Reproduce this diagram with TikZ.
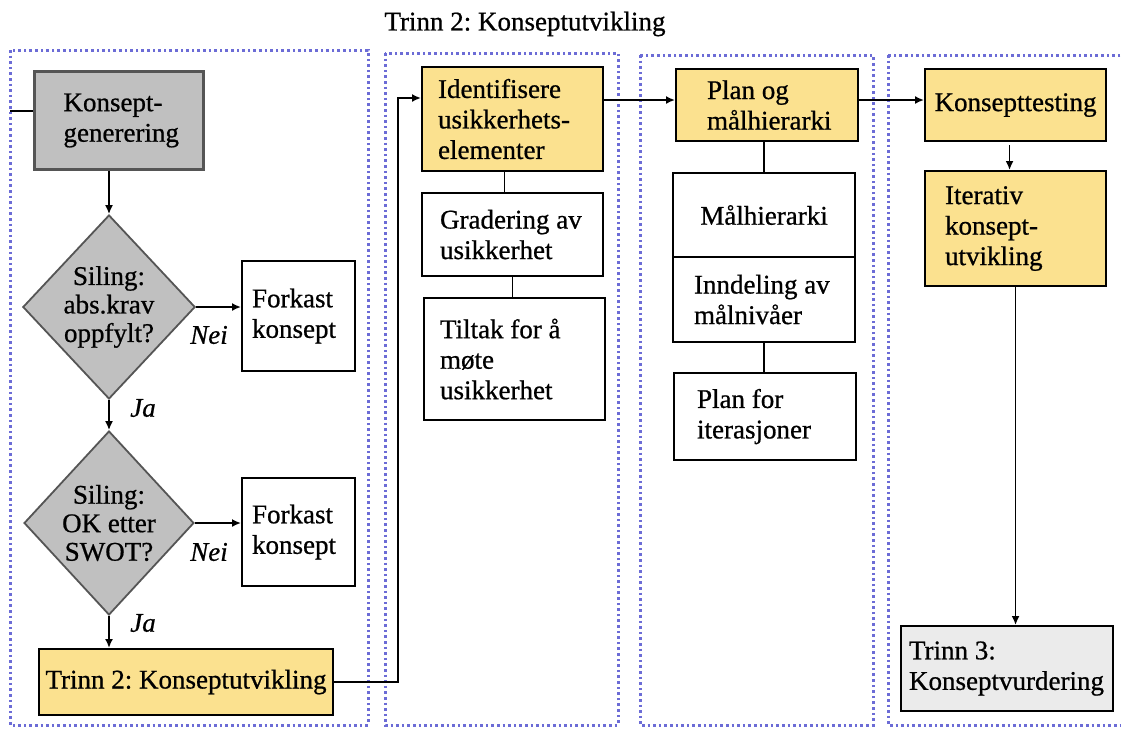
\documentclass[tikz,border=0pt]{standalone}
\usepackage{fontspec}
\setmainfont{Liberation Serif}[FakeBold=0.7]
\usetikzlibrary{shapes.geometric,arrows.meta,calc}
\definecolor{frameblue}{RGB}{108,108,214}
\definecolor{boxyellow}{RGB}{251,225,143}
\definecolor{boxgray}{RGB}{192,192,192}
\definecolor{boxlight}{RGB}{235,235,235}
\definecolor{edgegray}{RGB}{85,85,85}
\frenchspacing
\newcommand\nobreakwords{\hyphenpenalty=10000 \exhyphenpenalty=10000 }
\newcommand\boxfont{\fontsize{27}{30.5}\selectfont\nobreakwords}
\tikzset{
  txt/.style={font=\boxfont},
  box/.style={txt, rectangle, draw=black, line width=2.1pt, inner ysep=0pt, align=flush left, anchor=north west},
  ybox/.style={box, fill=boxyellow},
  wbox/.style={box, fill=white},
  decision/.style={diamond, draw=edgegray, fill=boxgray, line width=1.8pt, inner sep=0pt,
    minimum width=168pt, minimum height=184pt, align=center,
    font=\fontsize{27}{28.5}\selectfont},
  lbl/.style={font=\fontsize{27}{30}\selectfont\itshape, inner sep=0pt},
  con/.style={line width=1.7pt, draw=black},
  arr/.style={con, -{Latex[length=9pt,width=8pt]}},
  frame/.style={draw=frameblue, line width=3pt, dash pattern=on 2.6pt off 3pt},
}
\begin{document}
\begin{tikzpicture}[x=1pt,y=-1pt]
  \useasboundingbox (0,0) rectangle (1121,729);
  \clip (0,0) rectangle (1121,729);

  % heading
  \node[txt] (title) at (525,24) {Trinn 2: Konseptutvikling};

  % dotted phase frames
  \draw[frame] (10,50) rectangle (368,725);
  \draw[frame] (385,53) rectangle (618,725);
  \draw[frame] (640,55) rectangle (873,725);
  \draw[frame] (888,55) rectangle (1135,725);

  % column 1: screening of concepts
  \node[box, fill=boxgray, draw=edgegray, line width=3pt, minimum width=169pt, minimum height=98pt,
        text width=111pt, inner xsep=29pt] (gen) at (33,70) {Konsept-\\generering};
  \node[decision] (d1) at (109,307) {Siling:\\abs.krav\\oppfylt?};
  \node[wbox, minimum width=113pt, minimum height=110pt, text width=93pt, inner xsep=10pt]
        (rej1) at (241,260) {Forkast\\konsept};
  \node[decision] (d2) at (109,523) {Siling:\\OK etter\\SWOT?};
  \node[wbox, minimum width=113pt, minimum height=108pt, text width=93pt, inner xsep=10pt]
        (rej2) at (241,477) {Forkast\\konsept};
  \node[ybox, minimum width=294pt, minimum height=66pt, align=center, inner xsep=4pt]
        (trinn2) at (38,648) {Trinn 2: Konseptutvikling};

  \node[lbl] (nei1) at (209,335) {Nei};
  \node[lbl] (ja1) at (143,408) {Ja};
  \node[lbl] (nei2) at (209,552) {Nei};
  \node[lbl] (ja2) at (143,623) {Ja};

  % column 2: uncertainty
  \node[ybox, minimum width=181pt, minimum height=104pt, text width=149pt, inner xsep=16pt]
        (ident) at (421,66) {Identifisere\\usikkerhets-\\elementer};
  \node[wbox, minimum width=181pt, minimum height=83pt, text width=145pt, inner xsep=18pt]
        (grad) at (421,192) {Gradering av\\usikkerhet};
  \node[wbox, minimum width=181pt, minimum height=122pt, text width=149pt, inner xsep=16pt]
        (tiltak) at (423,297) {Tiltak for å\\møte\\usikkerhet};

  % column 3: plan and goal hierarchy
  \node[ybox, minimum width=182pt, minimum height=72pt, text width=120pt, inner xsep=31pt]
        (plan) at (675,68) {Plan og\\målhierarki};
  \node[wbox, minimum width=182pt, minimum height=84pt, align=center, inner xsep=4pt]
        (maal) at (672,172) {Målhierarki};
  \node[wbox, minimum width=182pt, minimum height=85pt, text width=140pt, inner xsep=21pt]
        (innd) at (672,256) {Inndeling av\\målnivåer};
  \node[wbox, minimum width=182pt, minimum height=87pt, text width=136pt, inner xsep=23pt]
        (planit) at (673,372) {Plan for\\iterasjoner};

  % column 4: testing
  \node[ybox, minimum width=181pt, minimum height=72pt, align=center, inner xsep=4pt]
        (ktest) at (924,68) {Konsepttesting};
  \node[ybox, minimum width=181pt, minimum height=115pt, text width=141pt, inner xsep=20pt]
        (iter) at (924,170) {Iterativ\\konsept-\\utvikling};
  \node[box, fill=boxlight, minimum width=212pt, minimum height=85pt, text width=196pt, inner xsep=8pt]
        (trinn3) at (900,625) {Trinn 3:\\Konseptvurdering};

  % helper points for the connectors
  \coordinate (inlet) at (10,111);
  \coordinate (bend) at (398,98);
  \coordinate (row) at (0,100);

  % connectors, column 1
  \draw[con] (inlet) -- (inlet -| gen.west);
  \draw[arr] (d1.north |- gen.south) -- (d1.north);
  \draw[arr] (d1.east) -- (d1.east -| rej1.west);
  \draw[arr] (d1.south) -- (d2.north);
  \draw[arr] (d2.east) -- (d2.east -| rej2.west);
  \draw[arr] (d2.south) -- (d2.south |- trinn2.north);

  % connectors between columns
  \draw[arr] (trinn2.east) -| (bend) -- (bend -| ident.west);
  \draw[arr] (ident.east |- row) -- (plan.west |- row);
  \draw[arr] (plan.east |- row) -- (ktest.west |- row);

  % connectors inside columns
  \draw[con] ([xshift=-8pt]ident.south) -- ([xshift=-8pt]ident.south |- grad.north);
  \draw[con] (grad.south) -- (grad.south |- tiltak.north);
  \draw[con] (maal.north |- plan.south) -- (maal.north);
  \draw[con] (innd.south) -- (innd.south |- planit.north);
  \draw[arr] ([xshift=-6pt,yshift=-3pt]ktest.south) -- ([xshift=-6pt]ktest.south |- iter.north);
  \draw[arr] (iter.south) -- (iter.south |- trinn3.north);
\end{tikzpicture}
\end{document}
